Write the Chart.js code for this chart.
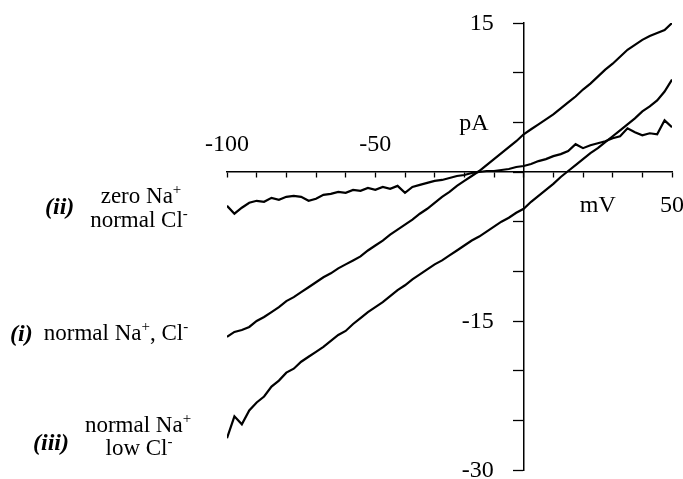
<!DOCTYPE html>
<html lang="en">
  <head>
    <meta charset="UTF-8" />
    <title>I-V relations</title>
    <script src="https://cdn.jsdelivr.net/npm/chart.js"></script>
    <style>
      html,
      body {
        margin: 0;
        padding: 0;
        background: #fff;
        overflow: hidden;
      }
      canvas#ivChart {
        display: block;
      }
    </style>
  </head>
  <body>
    <canvas id="ivChart" width="683" height="479"></canvas>
    <script>
      // membrane potential (mV)
      const mV = [
        -100, -97.5, -95, -92.5, -90, -87.5, -85, -82.5, -80, -77.5, -75, -72.5,
        -70, -67.5, -65, -62.5, -60, -57.5, -55, -52.5, -50, -47.5, -45, -42.5,
        -40, -37.5, -35, -32.5, -30, -27.5, -25, -22.5, -20, -17.5, -15, -12.5,
        -10, -7.5, -5, -2.5, 0, 2.5, 5, 7.5, 10, 12.5, 15, 17.5, 20, 22.5, 25,
        27.5, 30, 32.5, 35, 37.5, 40, 42.5, 45, 47.5, 50,
      ];

      // (i) normal Na+, Cl-  (pA)
      const normalNaCl = [
        -16.6, -16.1, -15.9, -15.6, -15.0, -14.6, -14.1, -13.6, -13.0, -12.6,
        -12.1, -11.6, -11.1, -10.6, -10.2, -9.7, -9.3, -8.9, -8.5, -7.9, -7.4,
        -6.9, -6.3, -5.8, -5.3, -4.8, -4.2, -3.7, -3.1, -2.5, -2.0, -1.4, -0.9,
        -0.4, 0.1, 0.7, 1.3, 1.9, 2.5, 3.1, 3.8, 4.3, 4.8, 5.3, 5.8, 6.4, 7.0,
        7.6, 8.3, 8.9, 9.6, 10.3, 10.9, 11.6, 12.3, 12.8, 13.3, 13.7, 14.0,
        14.3, 15.0,
      ];

      // (ii) zero Na+, normal Cl-  (pA)
      const zeroNa = [
        -3.4, -4.2, -3.6, -3.1, -2.9, -3.0, -2.6, -2.8, -2.5, -2.4, -2.5, -2.9,
        -2.7, -2.3, -2.2, -2.0, -2.1, -1.8, -1.9, -1.6, -1.8, -1.5, -1.7, -1.4,
        -2.1, -1.5, -1.3, -1.1, -0.9, -0.8, -0.6, -0.4, -0.3, -0.1, 0.0, 0.1,
        0.1, 0.2, 0.3, 0.5, 0.6, 0.8, 1.1, 1.3, 1.6, 1.8, 2.1, 2.8, 2.4, 2.7,
        2.9, 3.1, 3.4, 3.6, 4.4, 4.0, 3.7, 3.9, 3.8, 5.2, 4.5,
      ];

      // (iii) normal Na+, low Cl-  (pA)
      const lowCl = [
        -26.8, -24.6, -25.4, -24.0, -23.2, -22.6, -21.6, -21.0, -20.2, -19.8,
        -19.1, -18.6, -18.1, -17.6, -17.0, -16.4, -16.0, -15.3, -14.7, -14.1,
        -13.6, -13.1, -12.5, -11.9, -11.4, -10.8, -10.3, -9.8, -9.3, -8.9, -8.4,
        -7.9, -7.4, -6.9, -6.5, -6.0, -5.5, -5.0, -4.6, -4.1, -3.7, -3.0, -2.4,
        -1.8, -1.2, -0.5, 0.1, 0.7, 1.3, 1.9, 2.4, 3.0, 3.6, 4.2, 4.8, 5.4, 6.1,
        6.6, 7.2, 8.1, 9.3,
      ];

      // axis tick labels
      const xTickLabels = [
        { v: -100, text: "-100", side: "above" },
        { v: -50, text: "-50", side: "above" },
        { v: 25, text: "mV", side: "below" },
        { v: 50, text: "50", side: "below" },
      ];
      const yTickLabels = [
        { v: 15, text: "15" },
        { v: 5, text: "pA" },
        { v: -15, text: "-15" },
        { v: -30, text: "-30" },
      ];

      const SERIF = '"Liberation Serif", "Times New Roman", serif';

      function toPoints(ys) {
        return mV.map((x, i) => ({ x: x, y: ys[i] }));
      }

      // draws text runs; a run with sup=true is drawn small and raised
      function drawRuns(ctx, runs, cx, baseline) {
        const big = "23px " + SERIF;
        const small = "15px " + SERIF;
        let total = 0;
        runs.forEach((r) => {
          ctx.font = r.sup ? small : big;
          r.w = ctx.measureText(r.t).width;
          total += r.w;
        });
        let x = cx - total / 2;
        runs.forEach((r) => {
          ctx.font = r.sup ? small : big;
          ctx.fillText(r.t, x, r.sup ? baseline - 9 : baseline);
          x += r.w;
        });
      }

      const labelsPlugin = {
        id: "ivLabels",
        afterDraw(chart) {
          const ctx = chart.ctx;
          const xs = chart.scales.x;
          const ys = chart.scales.y;
          const y0 = ys.getPixelForValue(0);
          const x0 = xs.getPixelForValue(0);
          ctx.save();
          ctx.fillStyle = "#000";
          ctx.font = "24px " + SERIF;
          ctx.textBaseline = "middle";
          ctx.textAlign = "center";
          xTickLabels.forEach((t) => {
            const px = xs.getPixelForValue(t.v);
            ctx.fillText(t.text, px, t.side === "above" ? y0 - 27 : y0 + 34);
          });
          ctx.textAlign = "right";
          yTickLabels.forEach((t) => {
            const py = ys.getPixelForValue(t.v);
            ctx.fillText(t.text, t.text === "pA" ? x0 - 35 : x0 - 30, py + 1);
          });

          // trace names
          ctx.textBaseline = "alphabetic";
          ctx.textAlign = "left";
          ctx.font = "italic bold 24px " + SERIF;
          ctx.fillText("(ii)", 45, 214);
          ctx.fillText("(i)", 10, 341);
          ctx.fillText("(iii)", 33, 450);

          drawRuns(ctx, [{ t: "zero Na" }, { t: "+", sup: true }], 141, 203);
          drawRuns(ctx, [{ t: "normal Cl" }, { t: "-", sup: true }], 139, 227);
          const runsI = [
            { t: "normal Na" },
            { t: "+", sup: true },
            { t: ", Cl" },
            { t: "-", sup: true },
          ];
          drawRuns(ctx, runsI, 116, 340);
          drawRuns(ctx, [{ t: "normal Na" }, { t: "+", sup: true }], 138, 432);
          drawRuns(ctx, [{ t: "low Cl" }, { t: "-", sup: true }], 139, 455);
          ctx.restore();
        },
      };

      const traceStyle = {
        borderColor: "#000",
        borderWidth: 2.2,
        pointRadius: 0,
        tension: 0,
        fill: false,
      };

      new Chart(document.getElementById("ivChart").getContext("2d"), {
        type: "line",
        data: {
          datasets: [
            Object.assign({ label: "(i) normal Na+, Cl-", data: toPoints(normalNaCl) }, traceStyle),
            Object.assign({ label: "(ii) zero Na+, normal Cl-", data: toPoints(zeroNa) }, traceStyle),
            Object.assign({ label: "(iii) normal Na+, low Cl-", data: toPoints(lowCl) }, traceStyle),
          ],
        },
        options: {
          responsive: false,
          animation: false,
          layout: {
            padding: { left: 227, right: 11, top: 23, bottom: 9 },
          },
          plugins: {
            legend: { display: false },
            tooltip: { enabled: false },
          },
          scales: {
            x: {
              type: "linear",
              min: -100,
              max: 50,
              position: { y: 0 },
              ticks: { display: false, stepSize: 10 },
              grid: {
                drawOnChartArea: false,
                drawTicks: true,
                tickLength: 5,
                tickColor: "#000",
                tickWidth: 1.3,
              },
              border: { display: true, color: "#000", width: 1.5 },
            },
            y: {
              type: "linear",
              min: -30,
              max: 15,
              position: { x: 0 },
              ticks: { display: false, stepSize: 5 },
              grid: {
                drawOnChartArea: false,
                drawTicks: true,
                tickLength: 10,
                tickColor: "#000",
                tickWidth: 1.3,
              },
              border: { display: true, color: "#000", width: 1.5 },
            },
          },
        },
        plugins: [labelsPlugin],
      });
    </script>
  </body>
</html>
